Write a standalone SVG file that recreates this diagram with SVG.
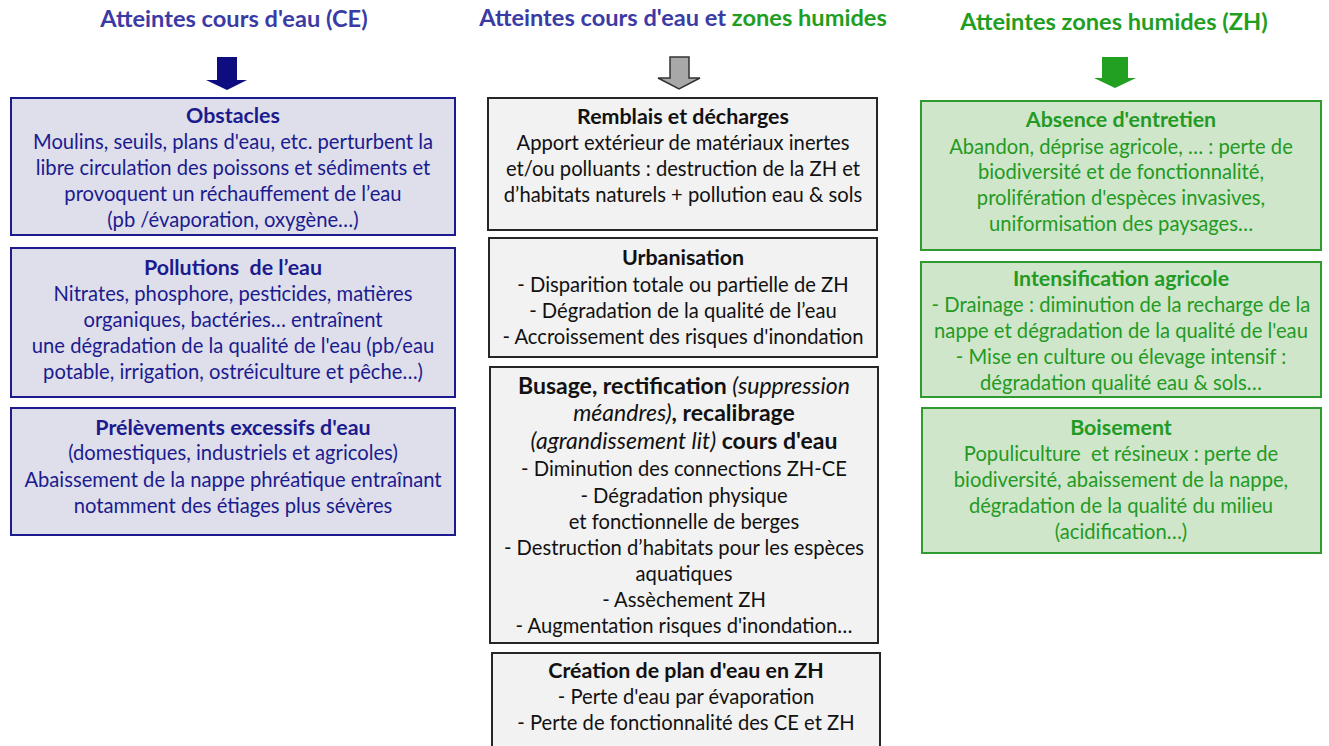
<svg xmlns="http://www.w3.org/2000/svg" width="1329" height="746" viewBox="0 0 1329 746">
<style>
text{font-family:Lato,"Open Sans",sans-serif;text-anchor:middle;font-size:20.2px}
.h{font-size:23.6px;font-weight:bold}
.t{font-weight:bold;font-size:21.4px}
.ce rect{fill:#dfdfec;stroke:#1b1b8e;stroke-width:2}
.ce text{fill:#1b1b8e}
.mx rect{fill:#f2f2f2;stroke:#262626;stroke-width:2}
.mx text{fill:#111}
.zh rect{fill:#cfe6cb;stroke:#2f9a2f;stroke-width:2}
.zh text{fill:#239a23}
.b{font-weight:bold}
.i{font-style:italic}
.bt{font-size:23px}
</style>
<g id="titles">
<text class="h" x="234" y="27" fill="#3b3ba5">Atteintes cours d'eau (CE)</text>
<text class="h" x="683" y="26" fill="#3b3ba5">Atteintes cours d'eau et <tspan fill="#1f9e1f">zones humides</tspan></text>
<text class="h" x="1114" y="30" fill="#1f9e1f">Atteintes zones humides (ZH)</text>
</g>
<g id="connectors">
<polygon points="217,57 237,57 237,80 247,80 227,90 206,80 217,80" fill="#0d0d80"/>
<polygon points="670,57 689,57 689,78 700,78 679,89 658,78 670,78" fill="#a8a8a8" stroke="#333" stroke-width="1.5"/>
<polygon points="1102,57 1128,57 1128,78 1136,78 1115,88 1094,78 1102,78" fill="#22a022"/>
</g>
<g id="obstacles" class="ce">
<rect x="11" y="98" width="444" height="137"/>
<text class="t" x="233" y="123">Obstacles</text>
<text x="233" y="149">Moulins, seuils, plans d'eau, etc. perturbent la</text>
<text x="233" y="175">libre circulation des poissons et sédiments et</text>
<text x="233" y="201">provoquent un réchauffement de l’eau</text>
<text x="233" y="227">(pb /évaporation, oxygène…)</text>
</g>
<g id="pollutions" class="ce">
<rect x="11" y="248" width="444" height="149"/>
<text class="t" x="233" y="275" xml:space="preserve">Pollutions  de l’eau</text>
<text x="233" y="301">Nitrates, phosphore, pesticides, matières</text>
<text x="233" y="327">organiques, bactéries… entraînent</text>
<text x="233" y="353">une dégradation de la qualité de l'eau (pb/eau</text>
<text x="233" y="379">potable, irrigation, ostréiculture et pêche…)</text>
</g>
<g id="prelevements" class="ce">
<rect x="11" y="408" width="444" height="127"/>
<text class="t" x="233" y="435">Prélèvements excessifs d'eau</text>
<text x="233" y="460">(domestiques, industriels et agricoles)</text>
<text x="233" y="487">Abaissement de la nappe phréatique entraînant</text>
<text x="233" y="513">notamment des étiages plus sévères</text>
</g>
<g id="remblais" class="mx">
<rect x="488" y="98" width="389" height="132"/>
<text class="t" x="683" y="124">Remblais et décharges</text>
<text x="683" y="150">Apport extérieur de matériaux inertes</text>
<text x="683" y="176">et/ou polluants : destruction de la ZH et</text>
<text x="683" y="202">d’habitats naturels + pollution eau &amp; sols</text>
</g>
<g id="urbanisation" class="mx">
<rect x="489" y="238" width="388" height="119"/>
<text class="t" x="683" y="265">Urbanisation</text>
<text x="683" y="292">- Disparition totale ou partielle de ZH</text>
<text x="683" y="318">- Dégradation de la qualité de l’eau</text>
<text x="683" y="344">- Accroissement des risques d'inondation</text>
</g>
<g id="busage" class="mx">
<rect x="490" y="367" width="388" height="276"/>
<text class="bt" x="684" y="394"><tspan class="b">Busage, rectification </tspan><tspan class="i">(suppression</tspan></text>
<text class="bt" x="684" y="421"><tspan class="i">méandres)</tspan><tspan class="b">, recalibrage</tspan></text>
<text class="bt" x="684" y="449"><tspan class="i">(agrandissement lit)</tspan><tspan class="b"> cours d'eau</tspan></text>
<text x="684" y="476">- Diminution des connections ZH-CE</text>
<text x="684" y="503">- Dégradation physique</text>
<text x="684" y="529">et fonctionnelle de berges</text>
<text x="684" y="555">- Destruction d’habitats pour les espèces</text>
<text x="684" y="581">aquatiques</text>
<text x="684" y="607">- Assèchement ZH</text>
<text x="684" y="633">- Augmentation risques d'inondation…</text>
</g>
<g id="plandeau" class="mx">
<rect x="492" y="653" width="388" height="100"/>
<text class="t" x="686" y="678">Création de plan d'eau en ZH</text>
<text x="686" y="704">- Perte d'eau par évaporation</text>
<text x="686" y="730">- Perte de fonctionnalité des CE et ZH</text>
</g>
<g id="entretien" class="zh">
<rect x="921" y="101" width="400" height="149"/>
<text class="t" x="1121" y="127">Absence d'entretien</text>
<text x="1121" y="154">Abandon, déprise agricole, … : perte de</text>
<text x="1121" y="179">biodiversité et de fonctionnalité,</text>
<text x="1121" y="205">prolifération d'espèces invasives,</text>
<text x="1121" y="231">uniformisation des paysages…</text>
</g>
<g id="intensification" class="zh">
<rect x="921" y="262" width="400" height="135"/>
<text class="t" x="1121" y="286">Intensification agricole</text>
<text x="1121" y="312">- Drainage : diminution de la recharge de la</text>
<text x="1121" y="338">nappe et dégradation de la qualité de l'eau</text>
<text x="1121" y="364">- Mise en culture ou élevage intensif :</text>
<text x="1121" y="390">dégradation qualité eau &amp; sols…</text>
</g>
<g id="boisement" class="zh">
<rect x="922" y="408" width="399" height="145"/>
<text class="t" x="1121" y="435">Boisement</text>
<text x="1121" y="461" xml:space="preserve">Populiculture  et résineux : perte de</text>
<text x="1121" y="487">biodiversité, abaissement de la nappe,</text>
<text x="1121" y="513">dégradation de la qualité du milieu</text>
<text x="1121" y="539">(acidification…)</text>
</g>
</svg>
